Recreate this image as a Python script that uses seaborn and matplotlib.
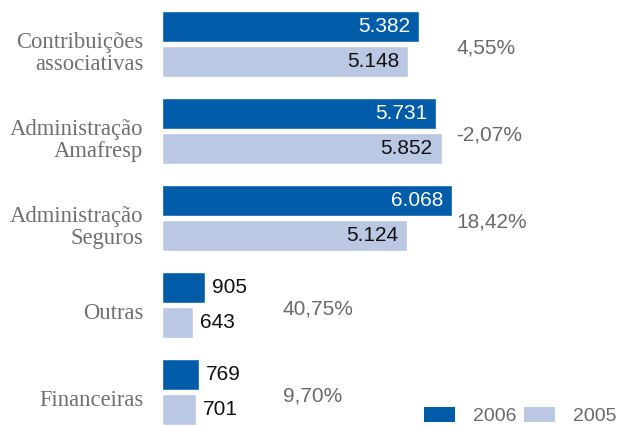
import matplotlib
matplotlib.use("Agg")
import matplotlib.pyplot as plt
import matplotlib.transforms as mtransforms
from matplotlib.patches import Patch
import seaborn as sns
import pandas as pd

categories = ["Contribuições\nassociativas", "Administração\nAmafresp",
              "Administração\nSeguros", "Outras", "Financeiras"]
values_2006 = [5382, 5731, 6068, 905, 769]
values_2005 = [5148, 5852, 5124, 643, 701]
variation = ["4,55%", "-2,07%", "18,42%", "40,75%", "9,70%"]
years = ["2006", "2005"]
colors = {"2006": "#005BA8", "2005": "#BAC8E4"}

df = pd.DataFrame({
    "categoria": categories * 2,
    "ano": ["2006"] * len(categories) + ["2005"] * len(categories),
    "valor": values_2006 + values_2005,
})

sns.set_theme(style="white")
plt.rcParams["font.family"] = ["Liberation Sans", "DejaVu Sans"]

fig = plt.figure(figsize=(6.2, 4.26), dpi=100)
ax = fig.add_axes([162 / 620, 0, 1 - 162 / 620, 1])

sns.barplot(data=df, y="categoria", x="valor", hue="ano", hue_order=years,
            palette=colors, orient="h", width=0.8, gap=0.1, legend=False,
            saturation=1, ax=ax)

ax.set_xlim(0, 9580)
ax.set_ylim(4.39, -0.506)
ax.set_xlabel("")
ax.set_ylabel("")
ax.set_xticks([])
for s in ax.spines.values():
    s.set_visible(False)

ax.tick_params(axis="y", length=0, pad=13.5)
shift = mtransforms.ScaledTranslation(0, -6 / 100, fig.dpi_scale_trans)
for lab in ax.get_yticklabels():
    lab.set_fontfamily(["Liberation Serif", "DejaVu Serif"])
    lab.set_fontsize(16.3)
    lab.set_color("#707070")
    lab.set_linespacing(1.1)
    lab.set_transform(lab.get_transform() + shift)

def fmt(v):
    return f"{v:,}".replace(",", ".")

for year, cont in zip(years, ax.containers):
    for bar in cont:
        w = bar.get_width()
        yc = bar.get_y() + bar.get_height() / 2
        if w > 2000:
            ax.annotate(fmt(int(round(w))), xy=(w, yc), xytext=(-6.5, 0),
                        textcoords="offset points", ha="right", va="center",
                        fontsize=15,
                        color="white" if year == "2006" else "#111111")
        else:
            ax.annotate(fmt(int(round(w))), xy=(w, yc), xytext=(5, 0),
                        textcoords="offset points", ha="left", va="center",
                        fontsize=15, color="#111111")

for i, txt in enumerate(variation):
    top = max(values_2006[i], values_2005[i])
    x = 6150 if top > 2000 else 2530
    ax.text(x, i + 0.04, txt, ha="left", va="center", fontsize=15,
            color="#6a6a6a")

handles = [Patch(facecolor=colors[y], edgecolor="none", label=y) for y in years]
leg = fig.legend(handles=handles, loc="lower right",
                 bbox_to_anchor=(617 / 620, 1 / 426), ncol=2, frameon=False,
                 fontsize=14, handlelength=1.6, handleheight=0.82,
                 handletextpad=0.93, columnspacing=0.4, borderpad=0,
                 borderaxespad=0)
for t in leg.get_texts():
    t.set_color("#6a6a6a")

fig.savefig("out.png", dpi=100)
